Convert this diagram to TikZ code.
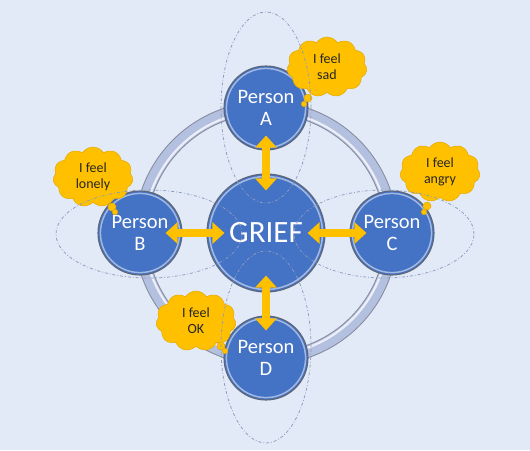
\documentclass[tikz,border=0pt]{standalone}
\usepackage{fontspec}
\setmainfont{Carlito}
\usepackage{tikz}
\usetikzlibrary{shapes.symbols,arrows.meta}

\definecolor{bgblue}{HTML}{E2EAF7}
\definecolor{griefblue}{HTML}{4472C4}
\definecolor{rimgray}{HTML}{5F6676}
\definecolor{ringfill}{HTML}{B4C0E0}
\definecolor{ringedge}{HTML}{858B9C}
\definecolor{arrowgold}{HTML}{FFC000}
\definecolor{bubbleedge}{HTML}{E3A900}
\definecolor{orbitgray}{HTML}{8A9CC0}

\tikzset{
  person/.style={circle, fill=griefblue, draw=rimgray, line width=1.1pt,
    minimum size=84pt, inner sep=0pt, text=white, align=center,
    font=\fontsize{20.5}{22}\selectfont,
    path picture={\draw[white, opacity=.5, line width=1.5pt]
      (path picture bounding box.center) circle (39.6pt);}},
  hub/.style={person, minimum size=118pt, font=\fontsize{31}{32}\selectfont,
    path picture={\draw[white, opacity=.5, line width=1.6pt]
      (path picture bounding box.center) circle (56.5pt);}},
  link/.style={line width=8pt, draw=arrowgold,
    {Triangle[width=21pt,length=12pt]}-{Triangle[width=21pt,length=12pt]}},
  thought/.style={cloud, cloud puffs=11, cloud puff arc=115, fill=arrowgold,
    draw=bubbleedge, line width=.5pt, minimum width=80pt, minimum height=60pt,
    inner sep=0pt, align=center, text=black!85,
    font=\fontsize{14}{16}\selectfont},
  puff/.style={circle, fill=arrowgold, draw=bubbleedge, line width=.5pt, inner sep=0pt},
  orbit/.style={draw=orbitgray, line width=.75pt,
    dash pattern=on 3pt off 2pt on .8pt off 2pt}
}

\begin{document}
\begin{tikzpicture}[x=1pt, y=-1pt]
      \fill[bgblue] (0,0) rectangle (530,450);
      \useasboundingbox (0,0) rectangle (530,450);
      % ring joining the four persons
      \draw[ringedge, line width=13pt] (266,233) circle (125.5pt);
      \draw[ringfill, line width=11pt] (266,233) circle (125.5pt);
      \draw[white, opacity=.75, line width=2.2pt] (266,233) circle (122pt);
      % circles
      \node[hub] (G) at (266,233) {GRIEF};
      \node[person] (A) at (266,108) {Person\\A};
      \node[person] (B) at (140,233) {Person\\B};
      \node[person] (C) at (392,233) {Person\\C};
      \node[person] (D) at (266,358) {Person\\D};
      % double arrows
      \draw[link, shorten <=-15pt, shorten >=-17pt] (A) -- (G);
      \draw[link, shorten <=-17pt, shorten >=-18pt] (B) -- (G);
      \draw[link, shorten <=-17pt, shorten >=-18pt] (C) -- (G);
      \draw[link, shorten <=-15pt, shorten >=-17pt] (D) -- (G);
      % thought bubbles
      \node[thought] (sad) at (327,67) {I feel\\sad};
      \node[puff, minimum size=8pt] (sad1) at (308,98) {};
      \node[puff, minimum size=5.5pt] (sad2) at (304,104) {};
      \node[thought] (lonely) at (93,177) {I feel\\lonely};
      \node[puff, minimum size=8pt] (lonely1) at (112,207) {};
      \node[puff, minimum size=5.5pt] (lonely2) at (115,212) {};
      \node[thought] (angry) at (440,172) {I feel\\angry};
      \node[puff, minimum size=8pt] (angry1) at (427,206) {};
      \node[puff, minimum size=5.5pt] (angry2) at (424,212) {};
      \node[thought] (ok) at (196,321) {I feel\\OK};
      \node[puff, minimum size=8pt] (ok1) at (221,346) {};
      \node[puff, minimum size=5.5pt] (ok2) at (225,351) {};
      % dash-dot orbits
      \draw[orbit] (266,107.5) ellipse [x radius=45pt, y radius=95.5pt];
      \draw[orbit] (266,347) ellipse [x radius=45pt, y radius=96pt];
      \draw[orbit] (149,234) ellipse [x radius=93pt, y radius=44pt];
      \draw[orbit] (384,234) ellipse [x radius=90pt, y radius=44pt];
\end{tikzpicture}
\end{document}
